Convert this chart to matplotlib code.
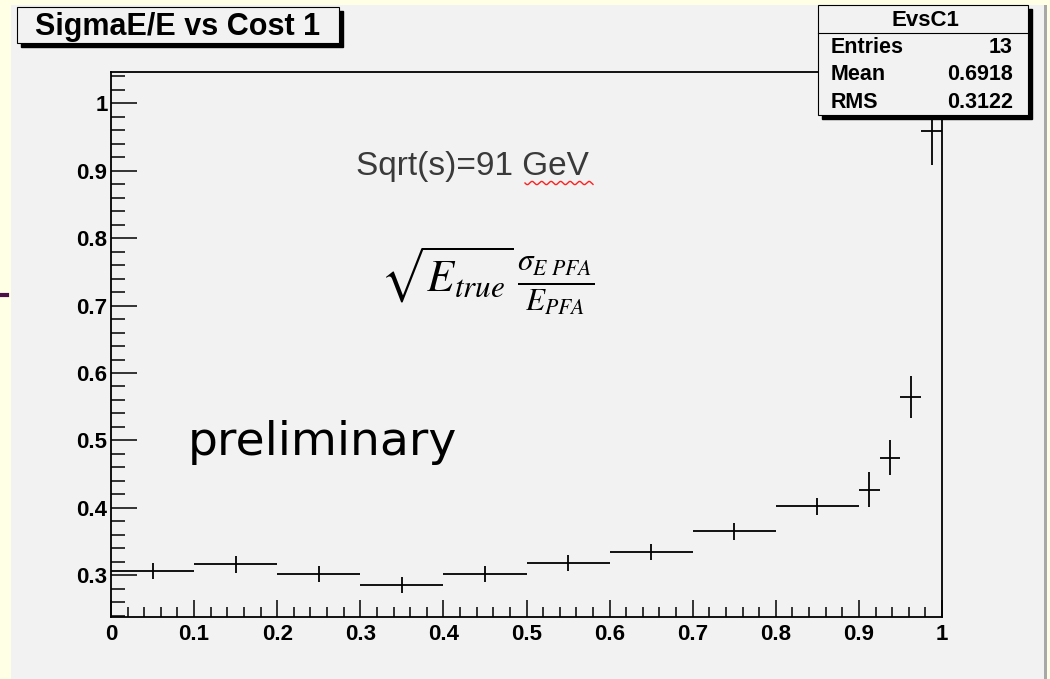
import numpy as np
import matplotlib
matplotlib.use("Agg")
import matplotlib.pyplot as plt
from matplotlib.patches import Rectangle
from matplotlib.lines import Line2D
from matplotlib.ticker import MultipleLocator, FuncFormatter

# ---- data ----
bin_low = [0.0, 0.1, 0.2, 0.3, 0.4, 0.5, 0.6, 0.7, 0.8, 0.9, 0.925, 0.95, 0.975]
bin_high = [0.1, 0.2, 0.3, 0.4, 0.5, 0.6, 0.7, 0.8, 0.9, 0.925, 0.95, 0.975, 1.0]
values = [0.306, 0.316, 0.302, 0.286, 0.302, 0.318, 0.335, 0.365, 0.402, 0.427, 0.474, 0.564, 0.959]
errors = [0.012, 0.012, 0.012, 0.012, 0.012, 0.012, 0.012, 0.012, 0.013, 0.026, 0.026, 0.031, 0.051]
title = "SigmaE/E vs Cost 1"
stats_name = "EvsC1"
stats_rows = [("Entries", "13"), ("Mean", "0.6918"), ("RMS", "0.3122")]

W, H = 1050, 679
def fx(px):
    return px / W
def fy(py):
    return 1 - py / H

plt.rcParams["mathtext.fontset"] = "stix"

fig = plt.figure(figsize=(W / 100, H / 100), dpi=100)
fig.patch.set_facecolor("#FFFFE6")

# canvas
fig.add_artist(Rectangle((fx(11), 0), fx(1044) - fx(11), fy(5), transform=fig.transFigure,
                         facecolor="#F2F2F2", edgecolor="none", zorder=-10))
fig.add_artist(Rectangle((fx(1044), 0), fx(3), fy(5), transform=fig.transFigure,
                         facecolor="#A8A8A8", edgecolor="none", zorder=-9))
fig.add_artist(Line2D([0, fx(7)], [fy(295), fy(295)], transform=fig.transFigure,
                      color="#4B0F4B", lw=3.0, zorder=-8))

ax = fig.add_axes([fx(111), fy(616.7), fx(942) - fx(111), fy(72.3) - fy(616.7)])
ax.set_facecolor("#F2F2F2")
ax.set_xlim(0, 1)
ax.set_ylim(0.2385, 1.046)

lo = np.array(bin_low)
hi = np.array(bin_high)
centers = (lo + hi) / 2
half = (hi - lo) / 2
ax.errorbar(centers, values, xerr=half, yerr=errors, fmt="none", ecolor="black",
            elinewidth=1.3, capsize=0)

ax.xaxis.set_major_locator(MultipleLocator(0.1))
ax.xaxis.set_minor_locator(MultipleLocator(0.02))
ax.yaxis.set_major_locator(MultipleLocator(0.1))
ax.yaxis.set_minor_locator(MultipleLocator(0.02))
fmt = FuncFormatter(lambda v, p: ("%g" % round(v, 3)))
ax.xaxis.set_major_formatter(fmt)
ax.yaxis.set_major_formatter(fmt)
ax.tick_params(axis="x", which="major", direction="in", length=12.2, width=1.1, pad=5.5,
               labelsize=16)
ax.tick_params(axis="x", which="minor", direction="in", length=7.2, width=1.1)
ax.tick_params(axis="y", which="major", direction="in", length=18.7, width=1.1, pad=2.5,
               labelsize=16)
ax.tick_params(axis="y", which="minor", direction="in", length=9.8, width=1.1)
for lab in ax.get_xticklabels() + ax.get_yticklabels():
    lab.set_fontfamily("Liberation Sans")
    lab.set_fontweight("bold")
for s in ax.spines.values():
    s.set_linewidth(1.3)
    s.set_color("black")

# title box
fig.add_artist(Rectangle((fx(20.7), fy(47.3)), fx(339) - fx(16.7), fy(7) - fy(43.3),
                         transform=fig.transFigure, facecolor="black", edgecolor="black", zorder=5))
fig.add_artist(Rectangle((fx(16.7), fy(43.3)), fx(339) - fx(16.7), fy(7) - fy(43.3),
                         transform=fig.transFigure, facecolor="#F2F2F2", edgecolor="black",
                         lw=0.8, zorder=6))
fig.text(fx(178), fy(26.5), title, ha="center", va="center", fontsize=22,
         fontfamily="Liberation Sans", fontweight="bold", zorder=7)

# stats box
bx0, bx1, by0, by1 = 818, 1027.7, 5.5, 115
fig.add_artist(Rectangle((fx(bx0 + 4), fy(by1 + 4)), fx(bx1) - fx(bx0), fy(by0) - fy(by1),
                         transform=fig.transFigure, facecolor="black", edgecolor="black", zorder=5))
fig.add_artist(Rectangle((fx(bx0), fy(by1)), fx(bx1) - fx(bx0), fy(by0) - fy(by1),
                         transform=fig.transFigure, facecolor="#F2F2F2", edgecolor="black",
                         lw=0.8, zorder=6))
fig.add_artist(Line2D([fx(bx0), fx(bx1)], [fy(33.3), fy(33.3)], transform=fig.transFigure,
                      color="black", lw=0.8, zorder=7))
fig.text(fx(925), fy(21), stats_name, ha="center", va="center", fontsize=16,
         fontfamily="Liberation Sans", fontweight="bold", zorder=7)
row_y = [47.5, 75, 102]
for (lab, val), yy in zip(stats_rows, row_y):
    fig.text(fx(830.7), fy(yy), lab, ha="left", va="center", fontsize=15.5,
             fontfamily="Liberation Sans", fontweight="bold", zorder=7)
    fig.text(fx(1013), fy(yy), val, ha="right", va="center", fontsize=15.5,
             fontfamily="Liberation Sans", fontweight="bold", zorder=7)

# annotations
fig.text(fx(356), fy(166), "Sqrt(s)=91 GeV", ha="left", va="center", fontsize=24,
         fontfamily="Liberation Sans", color="#3A3A3A")
sx = np.linspace(525, 593, 200)
sy = 183 + 1.6 * np.sin(2 * np.pi * (sx - 525) / 9.5)
fig.add_artist(Line2D(fx(sx), fy(sy), transform=fig.transFigure, color="#FF2020", lw=1.0))

fig.text(fx(487), fy(281), r"$\sqrt{E_{true}}\,\frac{\sigma_{E\ PFA}}{E_{PFA}}$",
         ha="center", va="center", fontsize=32, color="black")

fig.text(fx(188), fy(455), "preliminary", ha="left", va="baseline", fontsize=34,
         fontfamily="DejaVu Sans", color="black")

fig.savefig("out.png", dpi=100, facecolor=fig.get_facecolor())
